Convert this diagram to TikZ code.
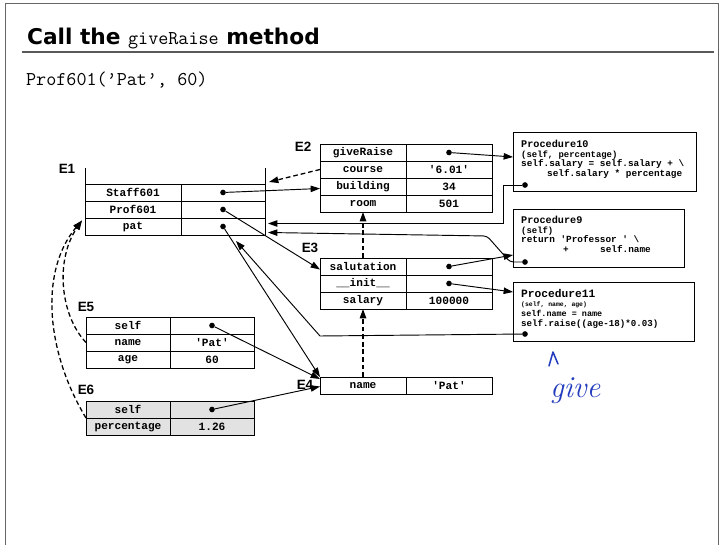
\documentclass[tikz,border=0pt]{standalone}
\usepackage{fontspec}
\newfontfamily\courfont{Liberation Mono}[Ligatures=TeXOff]
\newfontfamily\labfont{Liberation Sans}
\newfontfamily\headfont{DejaVu Sans}
\usetikzlibrary{arrows.meta,positioning,calc}
\definecolor{inkblue}{RGB}{35,60,190}
\definecolor{shade}{RGB}{226,226,226}
\tikzset{
  % one cell of an environment table
  cell/.style={draw, line width=0.8pt, outer sep=0pt, inner sep=0pt,
    minimum height=0.51cm, anchor=north west,
    font=\courfont\bfseries\fontsize{9.5}{10}\selectfont},
  kcell/.style={cell, minimum width=2.58cm},
  ecell/.style={cell, minimum width=2.52cm},
  % environment names
  envlab/.style={font=\labfont\bfseries\fontsize{11.5}{12}\selectfont},
  % procedure objects
  proc/.style={draw, line width=0.8pt, anchor=north west, inner sep=0pt, outer sep=0pt},
  proctext/.style={anchor=north west, inner sep=0pt, align=left,
    font=\courfont\bfseries\fontsize{8}{8.2}\selectfont},
  dot/.style={circle, fill, inner sep=1.7pt},
  % pointers
  arr/.style={-{Triangle[length=8pt,width=5.5pt]}, line width=0.8pt},
  parent/.style={arr, line width=1.1pt, dash pattern=on 4pt off 2.5pt},
}
\begin{document}
\begin{tikzpicture}[x=0.03cm, y=-0.03cm]
\useasboundingbox (0,0) rectangle (724,545);

% slide frame and heading
\draw[black!60, line width=0.8pt] (5,545) -- (5,3) -- (718,3) -- (718,545);
\node[anchor=base west, font=\headfont\bfseries\fontsize{18.5}{21}\selectfont] (title) at (23,45)
  {Call the {\ttfamily\mdseries\fontsize{16.7}{18}\selectfont giveRaise} method};
\draw[black!65, line width=1pt] (22,52) -- (714,52);
\node[anchor=base west, font=\ttfamily\fontsize{16.7}{18}\selectfont] (call) at (22,86)
  {Prof601(’Pat’, 60)};

% E1
\node[envlab] (e1lab) at (67,169) {E1};
\foreach \k [count=\i from 0] in {Staff601,Prof601,pat} {
  \node[cell, minimum width=2.88cm] (e1k\i) at (85,{184+17*\i}) {\k};
  \node[ecell] (e1v\i) at (e1k\i.north east) {};
  \node[dot] (e1d\i) at (e1v\i.center) {};
}
\draw[line width=0.8pt] (e1k0.north west) -- ++(0,-16);
\draw[line width=0.8pt] (e1v0.north east) -- ++(0,-16);

% E2
\node[envlab] (e2lab) at (303,147) {E2};
\foreach \k/\v [count=\i from 0] in {giveRaise/{},course/'6.01',building/34,room/501} {
  \node[kcell] (e2k\i) at (320,{144+17*\i}) {\k};
  \node[kcell] (e2v\i) at (e2k\i.north east) {\v};
}
\node[dot] (e2d0) at (e2v0.center) {};

% E3
\node[envlab] (e3lab) at (310,248) {E3};
\foreach \k/\v [count=\i from 0] in {salutation/{},\_\_init\_\_/{},salary/100000} {
  \node[kcell] (e3k\i) at (320,{258+17*\i}) {\k};
  \node[kcell] (e3v\i) at (e3k\i.north east) {\v};
}
\node[dot] (e3d0) at (e3v0.center) {};
\node[dot] (e3d1) at (e3v1.center) {};

% E4
\node[envlab] (e4lab) at (305,385) {E4};
\node[kcell] (e4k0) at (320,377) {name};
\node[kcell] (e4v0) at (e4k0.north east) {'Pat'};

% E5
\node[envlab] (e5lab) at (86,307) {E5};
\foreach \k/\v [count=\i from 0] in {self/{},name/'Pat',age/60} {
  \node[ecell] (e5k\i) at (86,{317+17*\i}) {\k};
  \node[ecell] (e5v\i) at (e5k\i.north east) {\v};
}
\node[dot] (e5d0) at (e5v0.center) {};

% E6
\node[envlab] (e6lab) at (86,390) {E6};
\foreach \k/\v [count=\i from 0] in {self/{},percentage/1.26} {
  \node[ecell, fill=shade] (e6k\i) at (86,{401+17*\i}) {\k};
  \node[ecell, fill=shade] (e6v\i) at (e6k\i.north east) {\v};
}
\node[dot] (e6d0) at (e6v0.center) {};

% procedures
\node[proc, minimum width=5.49cm, minimum height=1.77cm] (p10) at (513,132) {};
\node[proctext] (p10t) at ($(p10.north west)+(8,8)$)
  {{\fontsize{8.7}{8.2}\selectfont Procedure10}\\
   {\fontsize{7.6}{8.2}\selectfont (self, percentage)}\\
   self.salary = self.salary + \textbackslash\\
   \hspace*{0.78cm}self.salary * percentage};
\node[dot] (p10d) at ($(p10.south west)+(12,-6)$) {};

\node[proc, minimum width=5.13cm, minimum height=1.74cm] (p9) at (513,209) {};
\node[proctext] (p9t) at ($(p9.north west)+(8,7)$)
  {{\fontsize{8.7}{8.2}\selectfont Procedure9}\\
   {\fontsize{7.6}{8.2}\selectfont (self)}\\
   return 'Professor ' \textbackslash\\
   \hspace*{1.26cm}+\hspace*{0.94cm}self.name};
\node[dot] (p9d) at ($(p9.south west)+(12,-5)$) {};

\node[proc, minimum width=5.43cm, minimum height=1.77cm] (p11) at (513,282) {};
\node[proctext] (p11t) at ($(p11.north west)+(8,7)$)
  {{\fontsize{9.6}{8.2}\selectfont Procedure11}\\
   {\fontsize{5.5}{8.2}\selectfont (self, name, age)}\\
   {\fontsize{7.2}{8.2}\selectfont self.name = name}\\
   {\fontsize{7.8}{8.2}\selectfont self.raise((age-18)*0.03)}};
\node[dot] (p11d) at ($(p11.south west)+(12,-7)$) {};

% bindings
\draw[arr] (e1d0) -- ($(e2k2.west)+(0,2)$);
\draw[arr] (e1d1) -- ($(e3k0.west)+(0,3)$);
\draw[arr] (e1d2) -- (e4k0.north west);
\draw[arr] (e5d0) -- ($(e4k0.north west)+(0,2)$);
\draw[arr] (e6d0) -- ($(e4k0.west)+(0,1)$);
\draw[arr] (e2d0) -- ($(p10.north west)+(0,25)$);
\draw[arr] (e3d0) -- ($(p9.north west)+(0,46)$);
\draw[arr] (e3d1) -- ($(p11.north west)+(0,10)$);

% procedure environments
\draw[arr] (p10d) -- ++(-22,0) |- ($(e1v2.east)+(3,-3)$);
\draw[arr, rounded corners=3pt] (p9d) -- ++(-15,0) -- ($(e2v3.south east)+(-5,24)$)
  -- ($(e1v2.east)+(3,6)$);
\draw[arr] (p11d) -- ($(e3k2.south west)+(0,27)$) -- ($(e1v2.south)+(13,6)$);

% parent pointers
\draw[parent] (e2k1.west) -- ($(e1v0.north east)+(4,-2)$);
\draw[parent] (e3k0.north) -- (e2k3.south);
\draw[parent] (e4k0.north) -- (e3k2.south);
\draw[parent] (e5k1.west) .. controls (60,315) and (55,260) .. ($(e1k2.west)+(-3,-6)$);
\draw[parent] (e6k0.south west) .. controls (45,350) and (40,270) .. ($(e1k2.west)+(-3,-6)$);

% handwritten note
\draw[inkblue, line width=1.3pt, line cap=round, line join=round] (549,366) -- (553,352) -- (558,364);
\node[font=\itshape\fontsize{26}{28}\selectfont, text=inkblue, anchor=base west] (note) at (546,398) {give};
\end{tikzpicture}
\end{document}
